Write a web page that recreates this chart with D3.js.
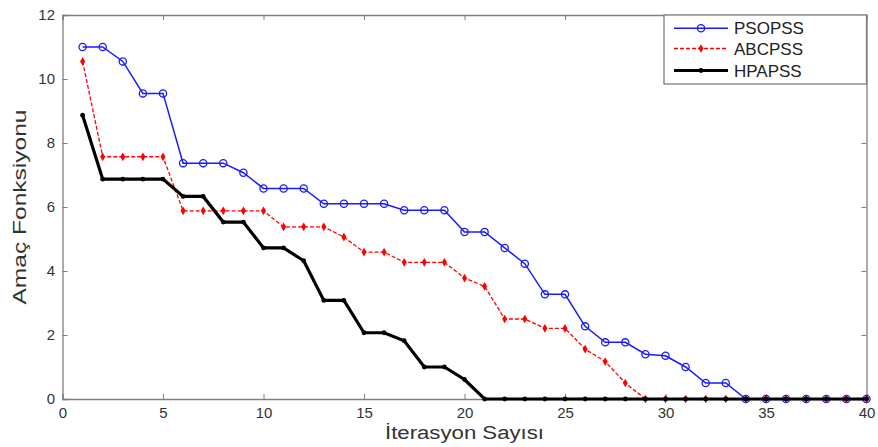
<!DOCTYPE html>
<html><head><meta charset="utf-8">
<script src="https://cdn.jsdelivr.net/npm/d3@7"></script>
<style>body{margin:0;background:#fff}svg{display:block}text{font-family:"Liberation Sans",Arial,sans-serif}</style>
</head><body><svg id="c" width="878" height="447"></svg>
<script>
const iterations = d3.range(1, 41);
const psopss = [11.0,11.0,10.55,9.55,9.55,7.37,7.37,7.37,7.07,6.58,6.58,6.58,6.1,6.1,6.1,6.1,5.9,5.9,5.9,5.22,5.22,4.72,4.23,3.27,3.27,2.27,1.77,1.77,1.4,1.35,1.0,0.5,0.5,0,0,0,0,0,0,0];
const abcpss = [10.55,7.57,7.57,7.57,7.57,5.88,5.88,5.88,5.88,5.88,5.38,5.38,5.38,5.06,4.59,4.59,4.27,4.27,4.27,3.78,3.52,2.5,2.5,2.21,2.21,1.56,1.17,0.5,0,0,0,0,0,0,0,0,0,0,0,0];
const hpapss = [8.87,6.87,6.87,6.87,6.87,6.33,6.33,5.53,5.53,4.72,4.72,4.32,3.08,3.08,2.07,2.07,1.82,1.0,1.0,0.61,0,0,0,0,0,0,0,0,0,0,0,0,0,0,0,0,0,0,0,0];
const seriesNames = ["PSOPSS","ABCPSS","HPAPSS"];
const xTicks = [0,5,10,15,20,25,30,35,40];
const yTicks = [0,2,4,6,8,10,12];
const xLabel = "İterasyon Sayısı";
const yLabel = "Amaç Fonksiyonu";

const svg = d3.select("#c");
const L = 62.5, R = 866.5, T = 15, B = 399;
const x = d3.scaleLinear().domain([0,40]).range([L,R]);
const y = d3.scaleLinear().domain([0,12]).range([B,T]);
const frame = "#7f7f7f";

// axes (inward ticks, MATLAB style)
const ax = svg.append("g").attr("transform",`translate(0,${B})`)
  .call(d3.axisBottom(x).tickValues(xTicks).tickSize(-5).tickPadding(8).tickFormat(d3.format("d")));
const axT = svg.append("g").attr("transform",`translate(0,${T})`)
  .call(d3.axisTop(x).tickValues(xTicks).tickSize(-5).tickFormat(""));
const ay = svg.append("g").attr("transform",`translate(${L},0)`)
  .call(d3.axisLeft(y).tickValues(yTicks).tickSize(-5).tickPadding(7.5).tickFormat(d3.format("d")));
const ayR = svg.append("g").attr("transform",`translate(${R},0)`)
  .call(d3.axisRight(y).tickValues(yTicks).tickSize(-5).tickFormat(""));
[ax,axT,ay,ayR].forEach(g=>{
  g.select(".domain").attr("stroke",frame).attr("stroke-width",1.3);
  g.selectAll(".tick line").attr("stroke",frame);
  g.selectAll(".tick text").attr("fill","#333").style("font-size","15px");
});

const line = d3.line().x((d,i)=>x(iterations[i])).y(d=>y(d));

// PSOPSS
svg.append("path").datum(psopss).attr("d",line).attr("fill","none").attr("stroke","#1a1aff").attr("stroke-width",1.5);
svg.append("g").selectAll("circle").data(psopss).join("circle")
  .attr("cx",(d,i)=>x(iterations[i])).attr("cy",d=>y(d)).attr("r",3.6)
  .attr("fill","none").attr("stroke","#1a1aff").attr("stroke-width",1.3);

// ABCPSS
svg.append("path").datum(abcpss).attr("d",line).attr("fill","none").attr("stroke","#ff0000").attr("stroke-width",1.3).attr("stroke-dasharray","4,2");
const star = d3.symbol().type(d3.symbolDiamond).size(22);
svg.append("g").selectAll("path").data(abcpss).join("path")
  .attr("transform",(d,i)=>`translate(${x(iterations[i])},${y(d)})`).attr("d",star).attr("fill","#ff0000");

// HPAPSS
svg.append("path").datum(hpapss).attr("d",line).attr("fill","none").attr("stroke","#000").attr("stroke-width",3.2).attr("stroke-linejoin","miter");
svg.append("g").selectAll("circle").data(hpapss).join("circle")
  .attr("cx",(d,i)=>x(iterations[i])).attr("cy",d=>y(d)).attr("r",2.4).attr("fill","#000");

// Legend
const lg = svg.append("g");
lg.append("rect").attr("x",664).attr("y",T).attr("width",R-664).attr("height",69).attr("fill","#fff").attr("stroke",frame).attr("stroke-width",1.3);
const rows = [28.3,48.5,70.5];
const styles = [
  {c:"#1a1aff",w:1.5,dash:null},
  {c:"#ff0000",w:1.3,dash:"4,2"},
  {c:"#000",w:3.2,dash:null}
];
seriesNames.forEach((n,i)=>{
  const yy = rows[i], s = styles[i];
  lg.append("line").attr("x1",674).attr("x2",728).attr("y1",yy).attr("y2",yy)
    .attr("stroke",s.c).attr("stroke-width",s.w).attr("stroke-dasharray",s.dash);
  if(i===0) lg.append("circle").attr("cx",701).attr("cy",yy).attr("r",3.6).attr("fill","none").attr("stroke",s.c).attr("stroke-width",1.3);
  if(i===1) lg.append("path").attr("transform",`translate(701,${yy})`).attr("d",star).attr("fill",s.c);
  if(i===2) lg.append("circle").attr("cx",701).attr("cy",yy).attr("r",2.4).attr("fill","#000");
  lg.append("text").attr("x",734).attr("y",yy).attr("dy","0.36em").style("font-size","17px").attr("fill","#222").text(n);
});

// Axis labels
svg.append("text").attr("x",(L+R)/2).attr("y",439).attr("text-anchor","middle").style("font-size","18px")
  .attr("textLength",159).attr("lengthAdjust","spacingAndGlyphs").attr("fill","#333").text(xLabel);
svg.append("text").attr("transform",`translate(26,207) rotate(-90)`).attr("text-anchor","middle").style("font-size","19px")
  .attr("textLength",195).attr("lengthAdjust","spacingAndGlyphs").attr("fill","#333").text(yLabel);
</script></body></html>
